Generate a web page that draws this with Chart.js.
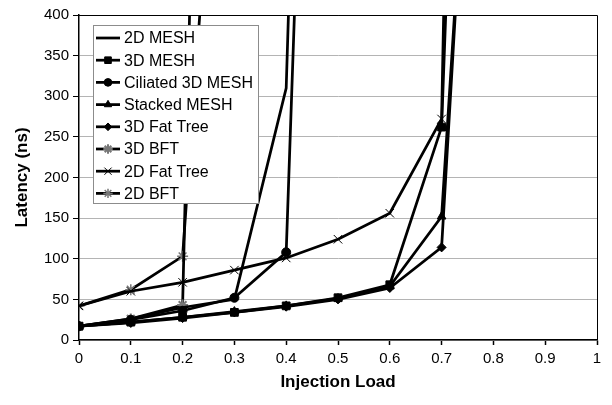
<!DOCTYPE html>
<html>
<head>
<meta charset="utf-8">
<script src="https://cdn.jsdelivr.net/npm/chart.js@4.4.1/dist/chart.umd.min.js"></script>
<style>
  html, body { margin: 0; padding: 0; background: #fff; }
</style>
</head>
<body>
<canvas id="latency" width="612" height="405"></canvas>
<script>
// injection load on x, latency (ns) per network on y
const loads = [0, 0.1, 0.2, 0.3, 0.4, 0.5, 0.6, 0.7, 0.8];
const mesh2d     = [17, 26, 40, 50, 310, 2400];
const mesh3d     = [17, 22, 28, 34, 42, 52, 68, 262, 2000];
const ciliated3d = [17, 25, 36, 52, 108, 1950];
const stacked    = [17, 22, 28, 35, 42, 51, 66, 152, 1150];
const fatTree3d  = [17, 21, 27, 34, 41, 50, 64, 114, 1200];
const bft3d      = [17, 26, 43, 2700];
const fatTree2d  = [42, 60, 71, 86, 101, 124, 156, 272, 3500];
const bft2d      = [42, 62, 103, 1000];

const xTicks = [0, 0.1, 0.2, 0.3, 0.4, 0.5, 0.6, 0.7, 0.8, 0.9, 1];
const yTicks = [0, 50, 100, 150, 200, 250, 300, 350, 400];

const FONT = "'Liberation Sans', Arial, Helvetica, sans-serif";

function series(label, values, style) {
  return Object.assign({
    label: label,
    data: values.map((v, i) => ({ x: loads[i], y: v })),
    borderColor: '#000',
    backgroundColor: '#000',
    borderWidth: 2.75,
    pointBorderColor: '#000',
    pointBackgroundColor: '#000',
    pointBorderWidth: 1,
    pointRadius: 4,
    tension: 0,
    fill: false
  }, style);
}

const datasets = [
  series('2D MESH', mesh2d, { pointRadius: 0, pointStyle: false }),
  series('3D MESH', mesh3d, { pointStyle: 'rect', pointRadius: 5.5 }),
  series('Ciliated 3D MESH', ciliated3d, { pointStyle: 'circle', pointRadius: 4.5 }),
  series('Stacked MESH', stacked, { pointStyle: 'triangle', pointRadius: 5 }),
  series('3D Fat Tree', fatTree3d, { pointStyle: 'rectRot', pointRadius: 4.5 }),
  series('3D BFT', bft3d, { pointStyle: 'star', pointRadius: 5.5, pointBorderColor: '#777', pointBorderWidth: 2 }),
  series('2D Fat Tree', fatTree2d, { pointStyle: 'crossRot', pointRadius: 6, pointBorderWidth: 1 }),
  series('2D BFT', bft2d, { pointStyle: 'star', pointRadius: 5.5, pointBorderColor: '#777', pointBorderWidth: 1.5 })
];

// right and top edge of the plot area
const frame = {
  id: 'frame',
  afterDatasetsDraw(chart) {
    const { ctx, chartArea: a } = chart;
    ctx.save();
    ctx.strokeStyle = '#000';
    ctx.lineWidth = 1;
    ctx.beginPath();
    ctx.moveTo(a.left, a.top + 0.5);
    ctx.lineTo(a.right + 0.5, a.top + 0.5);
    ctx.lineTo(a.right + 0.5, a.bottom);
    ctx.stroke();
    ctx.restore();
  }
};

// boxed legend sitting inside the plot, over the lines
const boxLegend = {
  id: 'boxLegend',
  afterDraw(chart) {
    const ctx = chart.ctx;
    const x0 = 93, y0 = 25, w = 165, h = 178;
    ctx.save();
    ctx.fillStyle = '#fff';
    ctx.fillRect(x0, y0, w, h);
    ctx.strokeStyle = '#8c8c8c';
    ctx.lineWidth = 1;
    ctx.strokeRect(x0 + 0.5, y0 + 0.5, w, h);
    ctx.font = '16px ' + FONT;
    ctx.textBaseline = 'middle';
    chart.data.datasets.forEach((ds, i) => {
      const y = 38 + i * 22.2;
      ctx.strokeStyle = '#000';
      ctx.lineWidth = 2.75;
      ctx.beginPath();
      ctx.moveTo(96, y);
      ctx.lineTo(120, y);
      ctx.stroke();
      if (ds.pointStyle) {
        ctx.fillStyle = ds.pointBackgroundColor;
        ctx.strokeStyle = ds.pointBorderColor;
        ctx.lineWidth = ds.pointBorderWidth;
        Chart.helpers.drawPoint(ctx, { pointStyle: ds.pointStyle, radius: ds.pointRadius * 0.85, rotation: 0, borderWidth: ds.pointBorderWidth }, 108, y);
      }
      ctx.fillStyle = '#000';
      ctx.fillText(ds.label, 124, y + 1);
    });
    ctx.restore();
  }
};

new Chart(document.getElementById('latency'), {
  type: 'line',
  data: { datasets: datasets },
  plugins: [frame, boxLegend],
  options: {
    responsive: false,
    animation: false,
    devicePixelRatio: 1,
    layout: { padding: { left: 0, top: 15, right: 15, bottom: 0 } },
    plugins: {
      legend: { display: false },
      tooltip: { enabled: false }
    },
    scales: {
      x: {
        type: 'linear',
        min: 0,
        max: 1,
        afterBuildTicks: s => { s.ticks = xTicks.map(v => ({ value: v })); },
        afterFit: s => { s.height = 65; },
        border: { color: '#000', width: 1.5 },
        grid: { drawOnChartArea: false, drawTicks: true, tickLength: 5, tickColor: '#000', tickWidth: 1.5 },
        ticks: {
          color: '#000',
          font: { size: 15, family: FONT },
          padding: 5,
          maxRotation: 0,
          callback: v => String(Math.round(v * 10) / 10)
        },
        title: {
          display: true,
          text: 'Injection Load',
          color: '#000',
          font: { size: 17, weight: 'bold', family: FONT },
          padding: { top: 0, bottom: 12 }
        }
      },
      y: {
        type: 'linear',
        min: 0,
        max: 400,
        afterBuildTicks: s => { s.ticks = yTicks.map(v => ({ value: v })); },
        afterFit: s => { s.width = 79; },
        border: { color: '#000', width: 1.5 },
        grid: {
          color: c => (c.tick && c.tick.value === 400) ? '#000' : '#b4b4b4',
          lineWidth: 1,
          drawTicks: true,
          tickLength: 6,
          tickColor: '#000'
        },
        ticks: { color: '#000', font: { size: 15, family: FONT }, padding: 4 },
        title: {
          display: true,
          text: 'Latency (ns)',
          color: '#000',
          font: { size: 17, weight: 'bold', family: FONT },
          padding: { top: 12, bottom: 0 }
        }
      }
    }
  }
});
</script>
</body>
</html>
